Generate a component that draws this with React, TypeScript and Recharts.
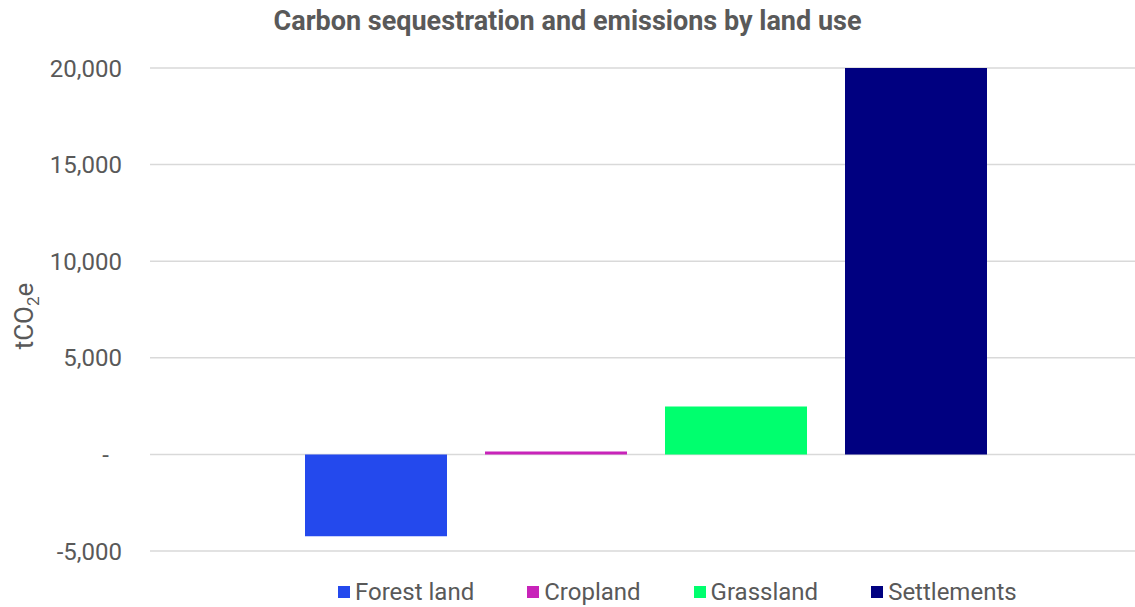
import { Bar, BarChart, CartesianGrid, XAxis, YAxis } from "recharts";

const categories = ["Land use"];
const seriesNames = ["Forest land", "Cropland", "Grassland", "Settlements"];
const seriesValues = [-4240, 150, 2480, 20000];
const seriesColors = ["#2449ED", "#C823B9", "#00FF6E", "#000080"];
const yTicks = [-5000, 0, 5000, 10000, 15000, 20000];

const data = categories.map((c) => {
  const row: Record<string, string | number> = { category: c };
  seriesNames.forEach((n, i) => {
    row[n] = seriesValues[i];
  });
  return row;
});

const textColor = "#595959";
const font = "Roboto, sans-serif";

// accounting-style ticks: zero shows as a dash, nudged left
const YTick = (props: any) => {
  const { x, y, payload } = props;
  const v = payload.value as number;
  return (
    <text
      x={v === 0 ? x - 13 : x}
      y={y}
      dy="0.36em"
      textAnchor="end"
      fill={textColor}
      fontSize={24}
      fontFamily={font}
    >
      {v === 0 ? "-" : v.toLocaleString("en-US")}
    </text>
  );
};

const YLabel = () => (
  <text
    transform="translate(33, 316) rotate(-90)"
    textAnchor="middle"
    fill={textColor}
    fontSize={26}
    fontFamily={font}
  >
    <tspan>tCO</tspan>
    <tspan fontSize={17} dy={6}>
      2
    </tspan>
    <tspan dy={-6}>e</tspan>
  </text>
);

const App = () => {
  return (
    <div
      style={{
        position: "absolute",
        top: 0,
        left: 0,
        width: 1135,
        height: 607,
        background: "#fff",
        fontFamily: font,
      }}
    >
      <div
        style={{
          position: "absolute",
          top: 5,
          left: 0,
          width: 1135,
          textAlign: "center",
          fontSize: 27,
          fontWeight: 700,
          color: textColor,
        }}
      >
        Carbon sequestration and emissions by land use
      </div>

      <BarChart
        width={1135}
        height={607}
        data={data}
        barSize={142}
        barGap={38}
        margin={{ top: 68, right: 0, bottom: 56, left: 0 }}
      >
        <CartesianGrid vertical={false} stroke="#d9d9d9" strokeWidth={1.5} />
        <XAxis dataKey="category" hide padding={{ left: 6, right: 0 }} />
        <YAxis
          width={150}
          domain={[-5000, 20000]}
          ticks={yTicks}
          interval={0}
          axisLine={false}
          tickLine={false}
          tickSize={0}
          tickMargin={28}
          tick={<YTick />}
          label={<YLabel />}
        />
        {seriesNames.map((n, i) => (
          <Bar key={n} dataKey={n} fill={seriesColors[i]} isAnimationActive={false} />
        ))}
      </BarChart>

      <div
        style={{
          position: "absolute",
          top: 578,
          left: 338,
          display: "flex",
          alignItems: "center",
          fontSize: 24,
          color: textColor,
          whiteSpace: "nowrap",
        }}
      >
        {seriesNames.map((n, i) => (
          <div
            key={n}
            style={{ display: "flex", alignItems: "center", marginRight: 53 }}
          >
            <div
              style={{
                width: 12,
                height: 12,
                background: seriesColors[i],
                marginRight: 5,
              }}
            />
            <span>{n}</span>
          </div>
        ))}
      </div>
    </div>
  );
};

export default App;
